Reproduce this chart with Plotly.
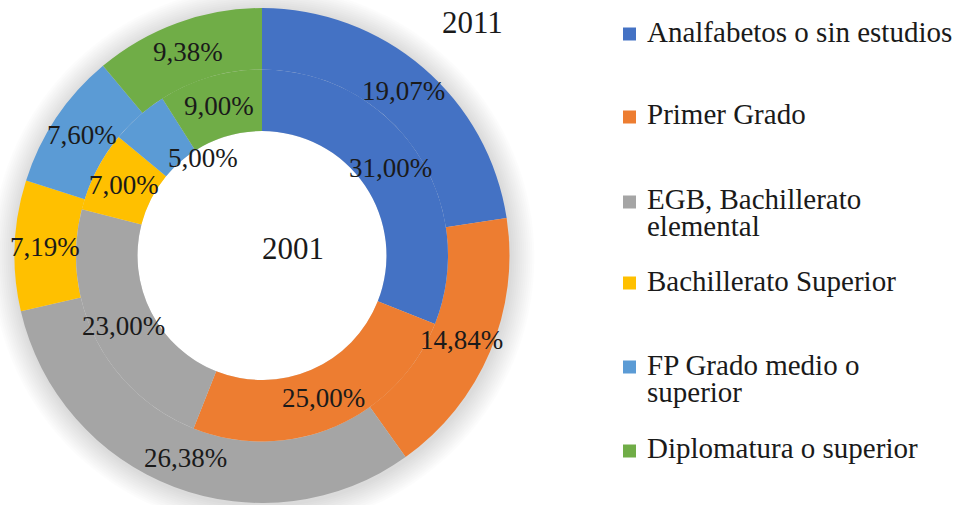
import math
import plotly.graph_objects as go

# ---- data ----
categories = [
    "Analfabetos o sin estudios",
    "Primer Grado",
    "EGB, Bachillerato<br>elemental",
    "Bachillerato Superior",
    "FP Grado medio o<br>superior",
    "Diplomatura o superior",
]
values_2001 = [31.00, 25.00, 23.00, 7.00, 5.00, 9.00]
values_2011 = [19.07, 14.84, 26.38, 7.19, 7.60, 9.38]
ring_names = ["2001", "2011"]

colors = ["#4472C4", "#ED7D31", "#A5A5A5", "#FFC000", "#5B9BD5", "#70AD47"]

W, H = 961, 505
FONT = "Liberation Serif"
TXT = "#1a1a1a"

# geometry (pixels)
cx, cy = 262, 255.5
r_out, r_mid, r_hole = 247.5, 186, 124.5
# manual label nudges as in the original (ring name, category index) -> (dx, dy) px
label_nudge = {("2001", 4): (44, 19)}


def dom(r):
    return dict(x=[(cx - r) / W, (cx + r) / W],
                y=[(H - cy - r) / H, (H - cy + r) / H])


def circle(r, fill, ox=0.0, oy=0.0):
    return dict(type="circle", xref="paper", yref="paper", layer="below",
                x0=(cx + ox - r) / W, x1=(cx + ox + r) / W,
                y0=(H - cy - oy - r) / H, y1=(H - cy - oy + r) / H,
                fillcolor=fill, line=dict(width=0))


def fmt(v):
    return f"{v:.2f}".replace(".", ",") + "%"


fig = go.Figure()
shapes = []

# soft shadow around the doughnut, white hole on top of it
for k in range(12):
    shapes.append(circle(r_out + 2 * (k + 1), "rgba(0,0,0,0.011)", 1, 2))
shapes.append(circle(r_hole, "white"))
for k in range(4):
    shapes.append(circle(r_hole - 2 * (k + 1), "rgba(255,255,255,0)"))

rings = [(values_2011, ring_names[1], r_out, r_mid), (values_2001, ring_names[0], r_mid, r_hole)]
annotations = []
for vals, name, r1, r0 in rings:
    fig.add_trace(go.Pie(
        labels=categories, values=vals, name=name,
        domain=dom(r1), hole=r0 / r1, sort=False, direction="clockwise",
        rotation=0, marker=dict(colors=colors, line=dict(width=0)),
        textinfo="none", showlegend=False, hoverinfo="label+value",
    ))
    # Excel-style data labels at the middle of each ring segment
    total = sum(vals)
    rm = (r0 + r1) / 2
    cum = 0.0
    for i, v in enumerate(vals):
        frac = (cum + v / 2) / total
        ang = math.pi / 2 - 2 * math.pi * frac
        dx, dy = label_nudge.get((name, i), (0, 0))
        px = cx + rm * math.cos(ang) + dx
        py = cy - rm * math.sin(ang) + dy
        annotations.append(dict(text=fmt(v), x=px / W, y=(H - py) / H,
                                xref="paper", yref="paper", showarrow=False,
                                xanchor="center", yanchor="middle",
                                font=dict(family=FONT, size=27, color=TXT)))
        cum += v

annotations += [
    dict(text=ring_names[0], x=293 / W, y=(H - 248) / H, xref="paper", yref="paper",
         showarrow=False, font=dict(family=FONT, size=31, color=TXT),
         xanchor="center", yanchor="middle"),
    dict(text=ring_names[1], x=472 / W, y=(H - 22) / H, xref="paper", yref="paper",
         showarrow=False, font=dict(family=FONT, size=31, color=TXT),
         xanchor="center", yanchor="middle", bgcolor="white"),
]

# manual legend (Excel-like uneven spacing)
marker_y = [34, 117, 202, 283, 367, 451]
first_line_y = [32, 114.5, 199, 281, 365, 448]
line_gap = 27.3
for i, cat in enumerate(categories):
    my = marker_y[i]
    shapes.append(dict(type="rect", xref="paper", yref="paper",
                       x0=623 / W, x1=636 / W, y0=(H - my - 6.5) / H, y1=(H - my + 6.5) / H,
                       fillcolor=colors[i], line=dict(width=0)))
    for j, line in enumerate(cat.split("<br>")):
        ly = first_line_y[i] + j * line_gap
        annotations.append(dict(text=line, x=645 / W, y=(H - ly) / H,
                                xref="paper", yref="paper", showarrow=False,
                                xanchor="left", yanchor="middle",
                                font=dict(family=FONT, size=29, color=TXT)))

fig.update_layout(
    width=W, height=H, margin=dict(l=0, r=0, t=0, b=0),
    paper_bgcolor="white", plot_bgcolor="white",
    separators=",.",
    annotations=annotations, shapes=shapes,
)
fig.write_html("out.html", config={"displayModeBar": False},
               post_script="document.body.style.margin='0px';")
